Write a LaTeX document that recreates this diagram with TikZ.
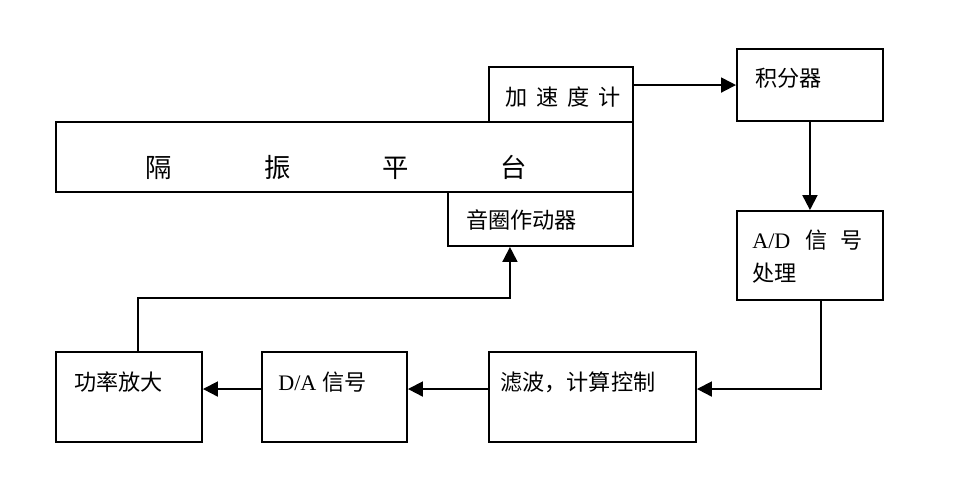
\documentclass[tikz,border=0pt]{standalone}
\usepackage{fontspec}
\setmainfont{Liberation Serif}
\newfontfamily\cjk{Noto Sans CJK SC}
\usepackage{tikz}
\usetikzlibrary{arrows.meta}

\begin{document}
\begin{tikzpicture}[
        blk/.style={draw,line width=1.1pt,inner sep=0pt,anchor=south west},
        txt/.style={anchor=west,inner sep=0pt,font=\fontsize{12.6}{14}\selectfont\cjk},
        sig/.style={line width=1.1pt,-{Triangle[length=0.3cm,width=0.3cm]}}
    ]
        \useasboundingbox (0,0) rectangle (19.5,9.7);
        % platform with sensor and actuator
        \node[blk,minimum width=11.54cm,minimum height=1.40cm] (plat) at (1.10,5.84) {};
        \node[blk,minimum width=2.88cm,minimum height=1.10cm] (acc) at (9.76,7.24) {};
        \node[blk,minimum width=3.70cm,minimum height=1.08cm] (coil) at (8.94,4.76) {};
        % control chain
        \node[blk,minimum width=2.92cm,minimum height=1.44cm] (integ) at (14.72,7.26) {};
        \node[blk,minimum width=2.92cm,minimum height=1.78cm] (ad) at (14.72,3.68) {};
        \node[blk,minimum width=4.14cm,minimum height=1.80cm] (filt) at (9.76,0.84) {};
        \node[blk,minimum width=2.90cm,minimum height=1.80cm] (da) at (5.22,0.84) {};
        \node[blk,minimum width=2.92cm,minimum height=1.80cm] (amp) at (1.10,0.84) {};
        % labels
        \node[font=\fontsize{15}{17}\selectfont\cjk] (platlbl) at (6.73,6.36)
            {隔\hspace{1.84cm}振\hspace{1.84cm}平\hspace{1.84cm}台};
        \node[txt] (acclbl) at (10.10,7.76) {加\hspace{0.18cm}速\hspace{0.18cm}度\hspace{0.18cm}计};
        \node[txt] (coillbl) at (9.32,5.30) {音圈作动器};
        \node[txt] (integlbl) at (15.10,8.14) {积分器};
        \node[txt] (adlbl) at (15.04,4.90) {\rmfamily A/D\hspace{0.3cm}\cjk 信\hspace{0.25cm}号};
        \node[txt] (adlbl2) at (15.04,4.24) {处理};
        \node[txt] (filtlbl) at (10.00,2.06) {滤波，计算控制};
        \node[txt] (dalbl) at (5.56,2.06) {\rmfamily D/A\hspace{0.12cm}\cjk 信号};
        \node[txt] (amplbl) at (1.48,2.06) {功率放大};
        % signal flow
        \draw[sig] (acc.east |- integ.west) -- (integ.west);
        \draw[sig] (integ.south) -- (ad.north);
        \draw[sig] ([xshift=0.22cm]ad.south) |- ([yshift=0.16cm]filt.east);
        \draw[sig] ([yshift=0.16cm]filt.west) -- ([yshift=0.16cm]da.east);
        \draw[sig] ([yshift=0.16cm]da.west) -- ([yshift=0.16cm]amp.east);
        \draw[sig] ([xshift=0.18cm]amp.north) -- ++(0,1.06) -| ([xshift=-0.61cm]coil.south);
    \end{tikzpicture}
\end{document}
